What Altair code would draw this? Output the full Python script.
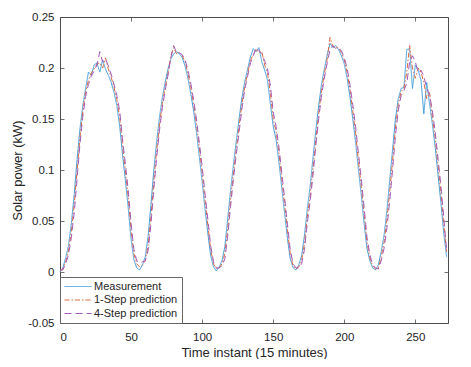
import altair as alt
import pandas as pd

FONT = "Liberation Sans"
TXT = "#262626"
FRAME = "#4d4d4d"

# time instants (15-minute steps, sampled every 2nd instant)
time_instant = list(range(0, 273, 2))

measurement = [
    # day 1
    0.000, 0.004, 0.014, 0.026, 0.048, 0.076, 0.110, 0.140, 0.163, 0.180,
    0.196, 0.193, 0.203, 0.205, 0.196, 0.208, 0.199, 0.193, 0.186, 0.176,
    0.163, 0.143, 0.115, 0.090, 0.063, 0.032, 0.012, 0.004, 0.002, 0.007,
    # day 2
    0.015, 0.035, 0.066, 0.100, 0.128, 0.152, 0.171, 0.186, 0.199, 0.209,
    0.214, 0.216, 0.214, 0.210, 0.202, 0.190, 0.175, 0.158, 0.137, 0.113,
    0.089, 0.062, 0.038, 0.016, 0.005, 0.001, 0.005, 0.011,
    # day 3
    0.025, 0.052, 0.080, 0.105, 0.128, 0.150, 0.171, 0.187, 0.199, 0.211,
    0.219, 0.216, 0.220, 0.206, 0.198, 0.188, 0.165, 0.143, 0.130, 0.108,
    0.083, 0.058, 0.033, 0.013, 0.004, 0.002, 0.007, 0.016,
    # day 4
    0.036, 0.062, 0.084, 0.112, 0.139, 0.163, 0.184, 0.199, 0.213, 0.224,
    0.220, 0.222, 0.218, 0.212, 0.204, 0.190, 0.172, 0.150, 0.127, 0.100,
    0.075, 0.047, 0.023, 0.011, 0.004, 0.002, 0.007, 0.020,
    # day 5
    0.036, 0.060, 0.090, 0.120, 0.150, 0.170, 0.180, 0.181, 0.218, 0.219,
    0.180, 0.203, 0.198, 0.188, 0.155, 0.186, 0.165, 0.145, 0.122, 0.095,
    0.068, 0.038, 0.015,
]

one_step = [
    0.001, 0.003, 0.010, 0.021, 0.040, 0.066, 0.099, 0.131, 0.157, 0.176,
    0.188, 0.195, 0.199, 0.204, 0.205, 0.200, 0.210, 0.199, 0.191, 0.181,
    0.169, 0.152, 0.124, 0.099, 0.073, 0.041, 0.018, 0.008, 0.005, 0.007,
    0.011, 0.026, 0.055, 0.089, 0.119, 0.144, 0.165, 0.181, 0.195, 0.212,
    0.220, 0.214, 0.215, 0.212, 0.206, 0.195, 0.181, 0.165, 0.145, 0.122,
    0.098, 0.071, 0.046, 0.022, 0.008, 0.003, 0.004, 0.008,
    0.018, 0.042, 0.071, 0.097, 0.120, 0.143, 0.165, 0.182, 0.195, 0.207,
    0.214, 0.218, 0.215, 0.216, 0.203, 0.195, 0.176, 0.150, 0.138, 0.117,
    0.092, 0.067, 0.041, 0.018, 0.006, 0.003, 0.005, 0.011,
    0.028, 0.054, 0.075, 0.102, 0.130, 0.155, 0.178, 0.194, 0.209, 0.230,
    0.221, 0.220, 0.220, 0.215, 0.208, 0.196, 0.179, 0.158, 0.136, 0.109,
    0.084, 0.056, 0.029, 0.014, 0.006, 0.003, 0.004, 0.015,
    0.029, 0.051, 0.079, 0.109, 0.141, 0.164, 0.177, 0.180, 0.196, 0.222,
    0.200, 0.190, 0.200, 0.196, 0.186, 0.170, 0.176, 0.152, 0.131, 0.104,
    0.078, 0.047, 0.020,
]

four_step = [
    0.002, 0.002, 0.008, 0.017, 0.034, 0.058, 0.091, 0.125, 0.152, 0.172,
    0.184, 0.192, 0.197, 0.203, 0.216, 0.206, 0.209, 0.202, 0.194, 0.184,
    0.173, 0.158, 0.130, 0.106, 0.080, 0.048, 0.022, 0.011, 0.009, 0.010,
    0.011, 0.021, 0.047, 0.081, 0.112, 0.139, 0.161, 0.178, 0.193, 0.210,
    0.222, 0.215, 0.215, 0.213, 0.208, 0.198, 0.185, 0.169, 0.150, 0.127,
    0.104, 0.077, 0.052, 0.026, 0.010, 0.004, 0.004, 0.006,
    0.013, 0.035, 0.064, 0.091, 0.115, 0.137, 0.160, 0.179, 0.192, 0.205,
    0.212, 0.220, 0.217, 0.214, 0.207, 0.199, 0.183, 0.157, 0.143, 0.123,
    0.098, 0.073, 0.047, 0.022, 0.008, 0.004, 0.004, 0.008,
    0.022, 0.048, 0.069, 0.095, 0.124, 0.150, 0.173, 0.190, 0.205, 0.218,
    0.222, 0.219, 0.219, 0.217, 0.210, 0.200, 0.184, 0.164, 0.142, 0.116,
    0.091, 0.063, 0.034, 0.017, 0.007, 0.004, 0.003, 0.011,
    0.023, 0.043, 0.070, 0.100, 0.133, 0.158, 0.173, 0.178, 0.185, 0.206,
    0.212, 0.206, 0.196, 0.198, 0.192, 0.180, 0.174, 0.158, 0.137, 0.111,
    0.085, 0.054, 0.022,
]

series_names = ["Measurement", "1-Step prediction", "4-Step prediction"]
series_colors = ["#3f9ddc", "#dd6b3d", "#a35ab8"]
series_dashes = [[1, 0], [5, 2, 1.5, 2], [7, 4]]

x_ticks = [0, 50, 100, 150, 200, 250]
y_ticks = [-0.05, 0, 0.05, 0.1, 0.15, 0.2, 0.25]

rows = []
for name, vals in zip(series_names, [measurement, one_step, four_step]):
    for t, v in zip(time_instant, vals):
        rows.append({"t": t, "p": v, "series": name})
df = pd.DataFrame(rows)

xscale = alt.Scale(domain=[0, 273], nice=False, zero=False)
yscale = alt.Scale(domain=[-0.05, 0.25], nice=False, zero=False)

legend = alt.Legend(
    title="", orient="bottom-left", offset=0,
    symbolType="M-1,0H4.4", symbolSize=100, symbolStrokeWidth=1,
    labelFont=FONT, labelFontSize=11, labelColor=TXT, labelOffset=19,
    labelLimit=300, padding=4, rowPadding=1.5,
    fillColor="white", strokeColor="#666666", cornerRadius=0,
)

main = alt.Chart(df).mark_line(strokeWidth=1).encode(
    x=alt.X("t:Q", scale=xscale, axis=alt.Axis(
        orient="bottom", values=x_ticks, ticks=False, domain=False, grid=False,
        labelPadding=8, labelFontSize=11.5,
        title="Time instant (15 minutes)", titleFontSize=13,
        titleX=194, titleY=33, titleAlign="center", titleBaseline="alphabetic")),
    y=alt.Y("p:Q", scale=yscale, axis=alt.Axis(
        orient="left", values=y_ticks, ticks=False, domain=False, grid=False,
        labelPadding=6, labelFontSize=11.5,
        labelExpr="datum.value < 0 ? '-' + format(-datum.value, '~g') : format(datum.value, '~g')",
        title="Solar power (kW)", titleFontSize=13, titleAngle=270,
        titleX=-39, titleY=153, titleAlign="center", titleBaseline="alphabetic")),
    color=alt.Color("series:N", scale=alt.Scale(domain=series_names, range=series_colors), legend=legend),
    strokeDash=alt.StrokeDash("series:N", scale=alt.Scale(domain=series_names, range=series_dashes), legend=legend),
    detail="series:N",
)

def tick_layer(xorient, yorient):
    return alt.Chart(df).mark_line(strokeOpacity=0).encode(
        x=alt.X("t:Q", scale=xscale, axis=alt.Axis(
            orient=xorient, offset=-4, tickSize=4, values=x_ticks, labels=False,
            domain=False, grid=False, title="", tickColor=FRAME, tickWidth=0.8)),
        y=alt.Y("p:Q", scale=yscale, axis=alt.Axis(
            orient=yorient, offset=-4, tickSize=4, values=y_ticks, labels=False,
            domain=False, grid=False, title="", tickColor=FRAME, tickWidth=0.8)),
    )

chart = alt.layer(main, tick_layer("bottom", "left"), tick_layer("top", "right")).resolve_axis(
    x="independent", y="independent"
).properties(
    width=388, height=306,
    padding={"left": 52, "top": 9, "right": 8, "bottom": 36},
    autosize=alt.AutoSizeParams(type="none"),
).configure_view(
    stroke=FRAME, strokeWidth=1
).configure_axis(
    labelFont=FONT, titleFont=FONT, labelColor=TXT, titleColor=TXT, titleFontWeight="normal"
)

chart.save("out.html", embed_options={"renderer": "svg", "actions": False})
